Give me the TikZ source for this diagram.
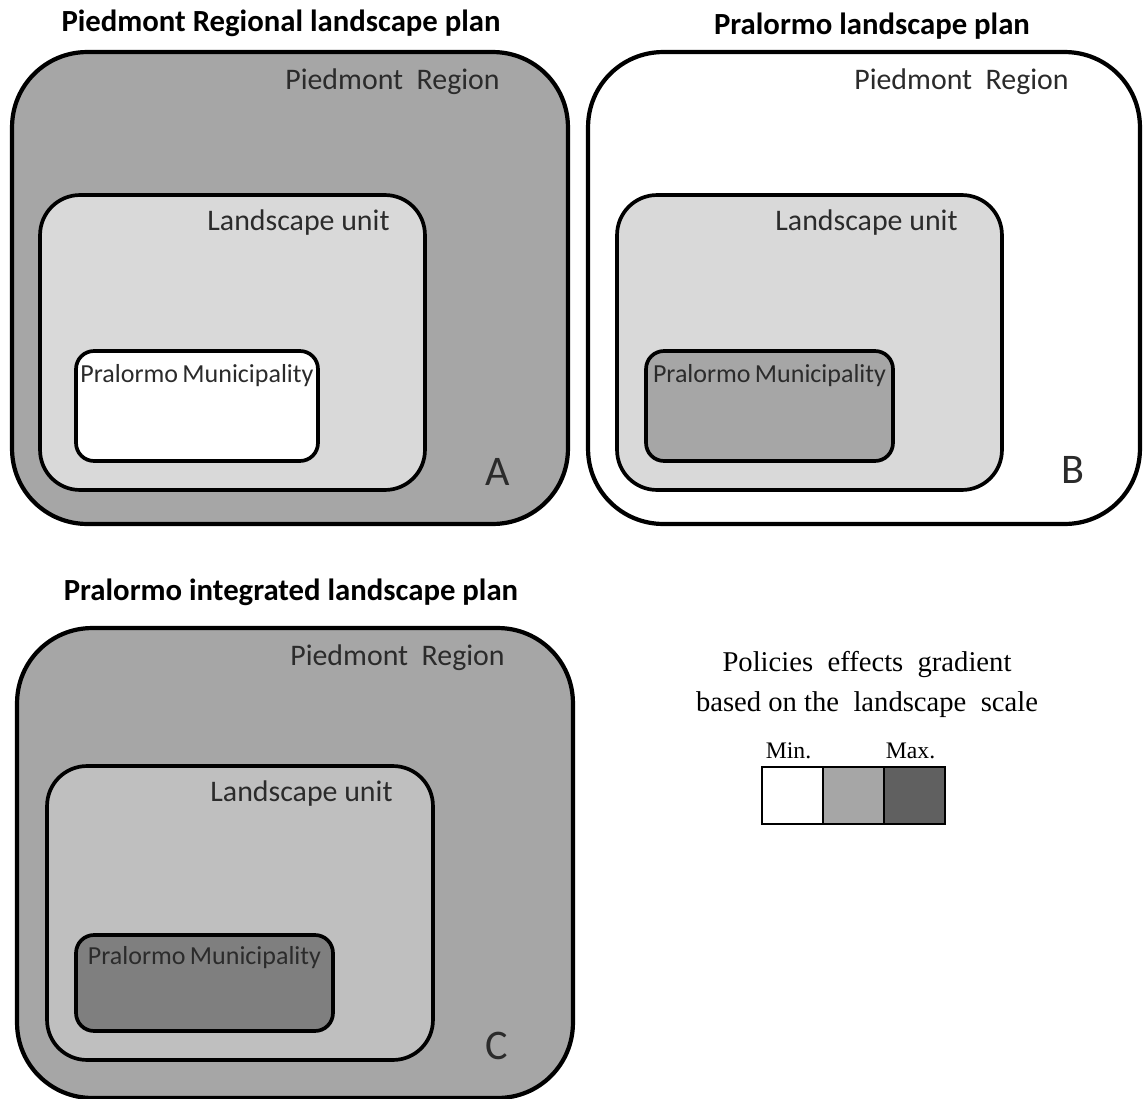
\documentclass[tikz,border=0pt]{standalone}
\usepackage{fontspec}
\setmainfont{Carlito}
\newfontfamily\legendfont{Liberation Serif}
\usetikzlibrary{positioning}

\definecolor{regiongray}{HTML}{A6A6A6}
\definecolor{unitlight}{HTML}{D9D9D9}
\definecolor{unitmid}{HTML}{BFBFBF}
\definecolor{munidark}{HTML}{7F7F7F}
\definecolor{maxgray}{HTML}{606060}
\definecolor{labelgray}{HTML}{2B2B2B}

\begin{document}
\begin{tikzpicture}[x=0.02cm,y=-0.02cm,
			region/.style={draw,line width=2.4pt,rounded corners=1.5cm,inner sep=0pt,outer sep=0pt},
			unit/.style={draw,line width=2.1pt,rounded corners=0.8cm,inner sep=0pt,outer sep=0pt},
			muni/.style={draw,line width=2.1pt,rounded corners=0.36cm,inner sep=0pt,outer sep=0pt},
			plantitle/.style={font=\fontsize{17.5}{21}\selectfont\bfseries,inner sep=0pt},
			lbl/.style={font=\fontsize{17}{20}\selectfont,text=labelgray,inner sep=0pt},
			munilbl/.style={font=\fontsize{14.8}{17}\selectfont,text=labelgray,inner sep=0pt},
			letter/.style={font=\fontsize{24}{28}\selectfont,text=labelgray,inner sep=0pt},
			gradlbl/.style={font=\legendfont\fontsize{16.3}{20}\selectfont,inner sep=0pt},
			scalebox/.style={draw,line width=0.8pt,minimum width=1.22cm,minimum height=1.14cm,inner sep=0pt,outer sep=0pt},
			scalelbl/.style={font=\legendfont\fontsize{13.5}{15}\selectfont,inner sep=0pt}]
	\clip (0,0) rectangle (1144,1099);
	
	% A: Piedmont Regional landscape plan
	\node[region,fill=regiongray,minimum width=11.12cm,minimum height=9.44cm] (regA) at (290,288) {};
	\node[unit,fill=unitlight,minimum width=7.7cm,minimum height=5.9cm] (unitA) at (232.5,342.5) {};
	\node[muni,fill=white,minimum width=4.84cm,minimum height=2.2cm] (muniA) at (197,406) {};
	\node[plantitle,above=0.3cm of regA.north,xshift=-0.18cm] (titleA) {Piedmont Regional landscape plan};
	\node[lbl,below left=0.32cm and 1.36cm of regA.north east] (lblregA) {Piedmont\ \ Region};
	\node[lbl,below left=0.28cm and 0.7cm of unitA.north east] (lblunitA) {Landscape unit};
	\node[munilbl,below=0.26cm of muniA.north] (lblmuniA) {Pralormo\,Municipality};
	\node[letter] (letA) at ([shift={(-70,-52)}]regA.south east) {A};
	
	% B: Pralormo landscape plan
	\node[region,fill=white,minimum width=11.04cm,minimum height=9.44cm] (regB) at (864,288) {};
	\node[unit,fill=unitlight,minimum width=7.7cm,minimum height=5.9cm] (unitB) at (809.5,342.5) {};
	\node[muni,fill=regiongray,minimum width=4.94cm,minimum height=2.2cm] (muniB) at (769.5,406) {};
	\node[plantitle,above=0.24cm of regB.north,xshift=0.16cm] (titleB) {Pralormo landscape plan};
	\node[lbl,below left=0.32cm and 1.42cm of regB.north east] (lblregB) {Piedmont\ \ Region};
	\node[lbl,below left=0.28cm and 0.88cm of unitB.north east] (lblunitB) {Landscape unit};
	\node[munilbl,below=0.26cm of muniB.north] (lblmuniB) {Pralormo\,Municipality};
	\node[letter] (letB) at ([shift={(-67,-54)}]regB.south east) {B};
	
	% C: Pralormo integrated landscape plan
	\node[region,fill=regiongray,minimum width=11.12cm,minimum height=9.4cm] (regC) at (295,863) {};
	\node[unit,fill=unitmid,minimum width=7.72cm,minimum height=5.88cm] (unitC) at (240,913) {};
	\node[muni,fill=munidark,minimum width=5.14cm,minimum height=1.92cm] (muniC) at (204.5,983) {};
	\node[plantitle,above=0.44cm of regC.north,xshift=-0.08cm] (titleC) {Pralormo integrated landscape plan};
	\node[lbl,below left=0.32cm and 1.36cm of regC.north east] (lblregC) {Piedmont\ \ Region};
	\node[lbl,below left=0.28cm and 0.8cm of unitC.north east] (lblunitC) {Landscape unit};
	\node[munilbl,below=0.22cm of muniC.north] (lblmuniC) {Pralormo\,Municipality};
	\node[letter] (letC) at ([shift={(-76,-52)}]regC.south east) {C};
	
	% legend
	\node[gradlbl] (gradtop) at (867,665) {Policies\ \ effects\ \ gradient};
	\node[gradlbl] (gradbottom) at (867,705) {based\ on\ the\ \ landscape\ \ scale};
	\node[scalebox,fill=white] (lowbox) at (792.5,795.5) {};
	\node[scalebox,fill=regiongray,right=0pt of lowbox] (midbox) {};
	\node[scalebox,fill=maxgray,right=0pt of midbox] (highbox) {};
	\node[scalelbl,above=0.16cm of lowbox.north,xshift=-0.08cm] (minlbl) {Min.};
	\node[scalelbl,above=0.16cm of highbox.north,xshift=-0.08cm] (maxlbl) {Max.};

\end{tikzpicture}
\end{document}
